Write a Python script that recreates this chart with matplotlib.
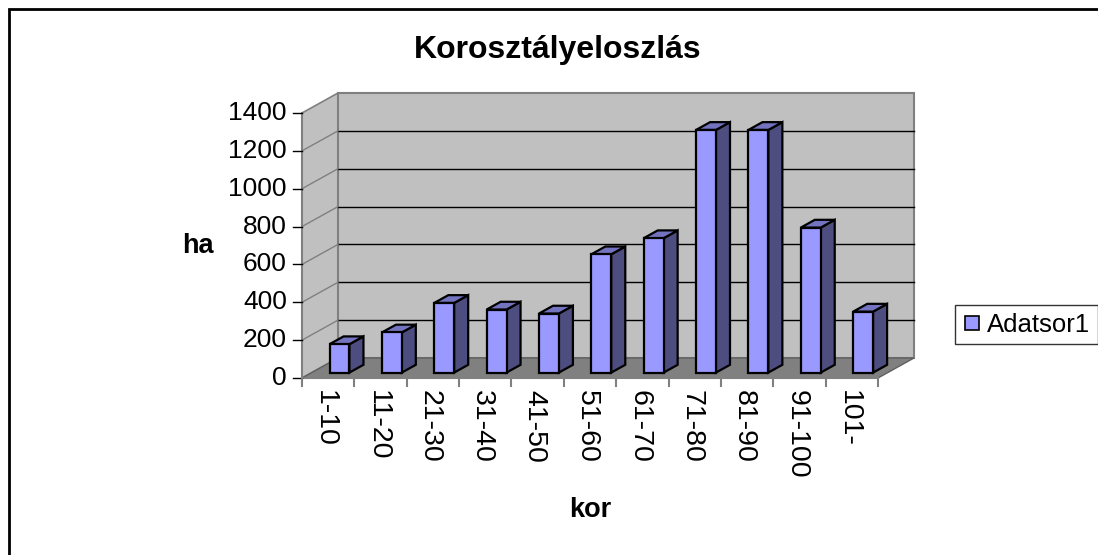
import matplotlib
matplotlib.use("Agg")
import matplotlib.pyplot as plt
from matplotlib.patches import Polygon, Rectangle
from matplotlib.lines import Line2D
from matplotlib.transforms import offset_copy

plt.rcParams['font.family'] = ['Liberation Sans', 'DejaVu Sans']

# ---- data ----
categories = ["1-10", "11-20", "21-30", "31-40", "41-50", "51-60",
              "61-70", "71-80", "81-90", "91-100", "101-"]
values = [150, 212, 368, 333, 312, 625, 710, 1282, 1282, 766, 322]
yticks = [0, 200, 400, 600, 800, 1000, 1200, 1400]
title = "Korosztályeloszlás"
ylabel = "ha"
xlabel = "kor"
series_name = "Adatsor1"

# ---- style ----
W, H = 1098, 555
fig = plt.figure(figsize=(W / 100, H / 100), dpi=100)
fig.patch.set_facecolor("white")

ax = fig.add_axes([302 / W, (H - 378) / H, 576 / W, 265 / H])
n = len(categories)
ymax = yticks[-1]
ax.set_xlim(0, n)
ax.set_ylim(0, ymax)
ax.axis("off")

DX = 36 / 576 * n        # depth offset in category units
DY = 20 / 265 * ymax     # depth offset in value units

wall_c = "#C0C0C0"
floor_c = "#808080"
edge_c = "#808080"

def poly(pts, fc, ec, lw=1.0, z=1):
    p = Polygon(pts, closed=True, facecolor=fc, edgecolor=ec, lw=lw,
                clip_on=False, zorder=z, joinstyle="miter")
    ax.add_patch(p)

# side wall
poly([(0, 0), (DX, DY), (DX, ymax + DY), (0, ymax)], wall_c, edge_c, 1.2, 1)
# back wall
poly([(DX, DY), (n + DX, DY), (n + DX, ymax + DY), (DX, ymax + DY)], wall_c, edge_c, 1.5, 1)
# floor
poly([(0, 0), (n, 0), (n + DX, DY), (DX, DY)], floor_c, "#606060", 1.0, 2)

# gridlines
for v in yticks[1:-1]:
    ax.plot([DX, n + DX], [v + DY, v + DY], color="black", lw=1.0,
            clip_on=False, zorder=1.5)
    ax.plot([0, DX], [v, v + DY], color=edge_c, lw=1.0, clip_on=False, zorder=1.5)

# axes lines
ax.plot([0, 0], [0, ymax], color=edge_c, lw=1.5, clip_on=False, zorder=3)
ax.plot([0, n], [0, 0], color=edge_c, lw=1.5, clip_on=False, zorder=3)

# tick marks
tick_len_y = 0.17  # category units
for v in yticks:
    ax.plot([-tick_len_y, 0], [v, v], color="black", lw=1.0, clip_on=False, zorder=3)
tick_len_x = 8 / 265 * ymax
for i in range(n + 1):
    ax.plot([i, i], [0, -tick_len_x], color=edge_c, lw=1.5, clip_on=False, zorder=3)

# bars
bw = 0.38
z0 = 0.27
dd = 0.39
front_c = "#9999FF"
side_c = "#4D4D80"
top_c = "#7373BF"
for i, v in enumerate(values):
    x0 = i + 0.5 - bw / 2 + z0 * DX + 0.03
    y0 = z0 * DY
    ox, oy = dd * DX, dd * DY
    poly([(x0 + bw, y0), (x0 + bw + ox, y0 + oy), (x0 + bw + ox, y0 + v + oy),
          (x0 + bw, y0 + v)], side_c, "black", 1.6, 4)
    poly([(x0, y0 + v), (x0 + bw, y0 + v), (x0 + bw + ox, y0 + v + oy),
          (x0 + ox, y0 + v + oy)], top_c, "black", 1.6, 4)
    poly([(x0, y0), (x0 + bw, y0), (x0 + bw, y0 + v), (x0, y0 + v)],
         front_c, "black", 1.6, 5)

# tick labels
ytr = offset_copy(ax.transData, fig=fig, x=-15, y=0, units="dots")
for v in yticks:
    ax.text(0, v, str(v), transform=ytr, ha="right", va="center",
            fontsize=19, clip_on=False)
xtr = offset_copy(ax.transData, fig=fig, x=-3, y=-12, units="dots")
for i, c in enumerate(categories):
    ax.text(i + 0.5, 0, c, transform=xtr, rotation=-90, ha="center", va="top",
            fontsize=20.5, clip_on=False, rotation_mode="default")

# titles
fig.text(558 / W, 1 - 50 / H, title, ha="center", va="center",
         fontsize=23, fontweight="bold")
fig.text(198 / W, 1 - 246 / H, ylabel, ha="center", va="center",
         fontsize=19.5, fontweight="bold")
fig.text(590 / W, 1 - 510 / H, xlabel, ha="center", va="center",
         fontsize=19.5, fontweight="bold")

# legend
handle = Line2D([], [], linestyle="none", marker="s", markersize=10,
                markerfacecolor=front_c, markeredgecolor="black", markeredgewidth=1.2)
leg = fig.legend([handle], [series_name], loc="center left",
                 bbox_to_anchor=(955 / W, 1 - 324.5 / H), frameon=True,
                 fancybox=False, fontsize=18.5, handlelength=0.7,
                 handletextpad=0.25, borderpad=0.3, borderaxespad=0)
leg.get_frame().set_edgecolor("black")
leg.get_frame().set_linewidth(1.0)

# chart border
fig.patches.append(Rectangle((9 / W, -0.1), 1.2, (H - 9) / H + 0.1,
                             transform=fig.transFigure, fill=False,
                             edgecolor="black", lw=2.0, zorder=10))

fig.savefig("out.png", dpi=100, facecolor="white")
